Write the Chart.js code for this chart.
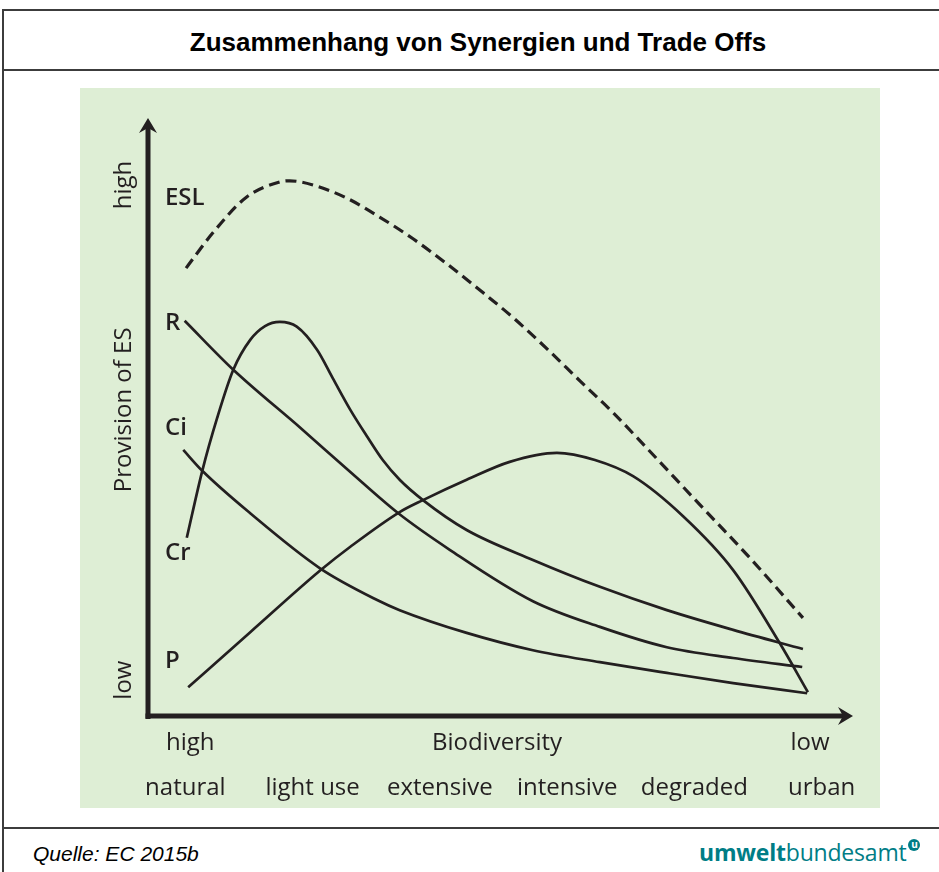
<!DOCTYPE html>
<html>
<head>
<meta charset="utf-8">
<script src="https://cdn.jsdelivr.net/npm/chart.js@4.4.1/dist/chart.umd.min.js"></script>
<style>
body{margin:0;background:#fff;width:939px;height:872px;overflow:hidden;position:relative;font-family:"Liberation Sans",Arial,sans-serif}
#frame{position:absolute;left:2px;top:9px;width:980px;height:900px;border-left:2px solid #3c3c3c;border-top:2px solid #3c3c3c}
.hline{position:absolute;left:2px;width:980px;border-top:2px solid #3c3c3c}
#title{position:absolute;left:4px;width:948px;top:27px;text-align:center;font-weight:bold;font-size:26px;color:#000}
#panel{position:absolute;left:80px;top:88px;width:800px;height:720px;background:#deeed5}
#source{position:absolute;left:33px;top:842px;font-style:italic;font-size:21px;color:#000}
#logo{position:absolute;left:699px;top:836px;font-family:"Open Sans",sans-serif;font-size:23px;color:#007d86;letter-spacing:-0.2px}
#logo b{font-weight:bold}
#logo .u{display:inline-block;width:12px;height:12px;border-radius:50%;background:#007d86;color:#fff;font-size:10px;line-height:10px;text-align:center;font-weight:bold;vertical-align:top;margin-left:2px;margin-top:3px}
</style>
</head>
<body>
<div id="frame"></div>
<div class="hline" style="top:69px"></div>
<div class="hline" style="top:827px"></div>
<div id="title">Zusammenhang von Synergien und Trade Offs</div>
<div id="panel"><canvas id="chart" width="800" height="720"></canvas></div>
<div id="source">Quelle: EC 2015b</div>
<div id="logo"><b>umwelt</b>bundesamt<span class="u">u</span></div>
<script>
// curve labels
const seriesNames = ['ESL', 'R', 'Ci', 'Cr', 'P']

// x: biodiversity from high (0) to low (100), y: provision of ES low (0) to high (100)
const eslX = [5.4, 9.2, 14.0, 18.7, 20.1, 23.4, 28.2, 32.9, 37.6, 42.4, 47.1, 51.8, 56.6, 61.3, 66.0, 69.4, 78.3, 85.4, 92.9]
const eslY = [74.9, 80.8, 86.8, 89.3, 89.5, 88.8, 86.6, 83.4, 79.8, 75.6, 71.2, 66.6, 61.4, 56.0, 50.7, 46.5, 35.3, 26.4, 16.4]

const rX = [5.2, 12.1, 21.6, 28.7, 35.5, 42.8, 54.6, 64.1, 73.6, 83.0, 92.8]
const rY = [66.1, 57.9, 48.2, 40.8, 33.9, 27.8, 19.2, 14.9, 11.5, 9.7, 8.2]

const ciX = [5.0, 7.7, 14.5, 24.4, 32.5, 35.7, 45.2, 54.6, 64.1, 73.6, 83.0, 93.5]
const ciY = [44.5, 41.0, 33.9, 24.7, 19.4, 17.7, 13.9, 11.0, 9.0, 7.2, 5.5, 3.8]

const crX = [5.5, 7.7, 9.8, 12.1, 14.5, 16.6, 18.7, 21.1, 24.0, 26.2, 28.7, 31.1, 33.3, 35.7, 39.0, 45.2, 54.6, 64.1, 73.6, 83.0, 92.9]
const crY = [29.8, 41.0, 49.8, 57.9, 62.9, 65.2, 65.9, 65.1, 61.2, 56.5, 51.2, 46.7, 42.8, 39.5, 36.1, 31.1, 26.1, 21.6, 17.7, 14.4, 11.2]

const pX = [5.7, 14.5, 24.5, 28.7, 35.7, 39.0, 45.2, 51.3, 58.0, 63.4, 68.8, 75.9, 83.0, 89.6, 93.6]
const pY = [4.8, 14.0, 24.4, 28.3, 34.1, 36.1, 39.5, 42.5, 44.0, 42.8, 40.1, 33.4, 24.4, 12.2, 4.0]

// axis texts
const biodivLabels = ['high', 'Biodiversity', 'low']
const biodivAt = [6.0, 49.5, 93.9]
const landUse = ['natural', 'light use', 'extensive', 'intensive', 'degraded', 'urban']
const esLabels = ['low', 'Provision of ES', 'high']
const esAt = [6.0, 51.2, 88.8]
const labelAt = [86.6, 65.7, 48.2, 27.3, 9.2]

const ink = '#231f20'

function toPoints(xs, ys) {
    return xs.map((x, i) => ({ x: x, y: ys[i] }))
}

const series = [
    toPoints(eslX, eslY),
    toPoints(rX, rY),
    toPoints(ciX, ciY),
    toPoints(crX, crY),
    toPoints(pX, pY)
]

const datasets = series.map((pts, index) => {
    return {
        label: seriesNames[index],
        data: pts,
        showLine: true,
        borderColor: ink,
        borderWidth: index === 0 ? 3.2 : 2.7,
        borderDash: index === 0 ? [11, 6] : [],
        pointRadius: 0,
        cubicInterpolationMode: 'monotone',
        fill: false
    }
})

const axesPlugin = {
    id: 'arrowAxes',
    beforeDatasetsDraw(chart) {
        const ctx = chart.ctx
        const xs = chart.scales.x
        const ys = chart.scales.y
        const x0 = xs.getPixelForValue(0)
        const y0 = ys.getPixelForValue(0)
        const yTop = ys.getPixelForValue(100)
        const xEnd = xs.getPixelForValue(100)
        ctx.save()
        ctx.fillStyle = ink
        // y axis
        ctx.fillRect(x0 - 2.5, yTop + 8, 5, y0 - yTop - 5)
        ctx.beginPath()
        ctx.moveTo(x0, yTop)
        ctx.lineTo(x0 + 9, yTop + 15)
        ctx.lineTo(x0, yTop + 10)
        ctx.lineTo(x0 - 9, yTop + 15)
        ctx.closePath()
        ctx.fill()
        // x axis
        ctx.fillRect(x0 - 2.5, y0 - 2.5, xEnd - x0 - 5, 5)
        ctx.beginPath()
        ctx.moveTo(xEnd, y0)
        ctx.lineTo(xEnd - 15, y0 - 9)
        ctx.lineTo(xEnd - 10, y0)
        ctx.lineTo(xEnd - 15, y0 + 9)
        ctx.closePath()
        ctx.fill()
        ctx.restore()
    },
    afterDraw(chart) {
        const ctx = chart.ctx
        const xs = chart.scales.x
        const ys = chart.scales.y
        const x0 = xs.getPixelForValue(0)
        const y0 = ys.getPixelForValue(0)
        ctx.save()
        ctx.fillStyle = ink
        ctx.textBaseline = 'middle'
        ctx.textAlign = 'center'
        ctx.font = '24px "Open Sans"'
        biodivLabels.forEach((t, i) => {
            ctx.fillText(t, xs.getPixelForValue(biodivAt[i]), y0 + 27)
        })
        landUse.forEach((t, i) => {
            const v = 5.3 + i * 18.05
            ctx.fillText(t, xs.getPixelForValue(v), y0 + 72)
        })
        esLabels.forEach((t, i) => {
            ctx.save()
            ctx.translate(x0 - 24, ys.getPixelForValue(esAt[i]))
            ctx.rotate(-Math.PI / 2)
            ctx.fillText(t, 0, 0)
            ctx.restore()
        })
        ctx.textAlign = 'left'
        ctx.font = '600 24px "Open Sans"'
        seriesNames.forEach((t, i) => {
            ctx.fillText(t, xs.getPixelForValue(2.4), ys.getPixelForValue(labelAt[i]))
        })
        ctx.restore()
    }
}

const ctx1 = document.getElementById('chart').getContext('2d')
new Chart(ctx1, {
    type: 'scatter',
    data: { datasets: datasets },
    options: {
        responsive: false,
        animation: false,
        layout: { padding: { left: 68, right: 27, top: 30, bottom: 92 } },
        plugins: { legend: { display: false }, tooltip: { enabled: false } },
        scales: {
            x: { type: 'linear', min: 0, max: 100, display: false },
            y: { type: 'linear', min: 0, max: 100, display: false }
        }
    },
    plugins: [axesPlugin]
})
</script>
</body>
</html>
